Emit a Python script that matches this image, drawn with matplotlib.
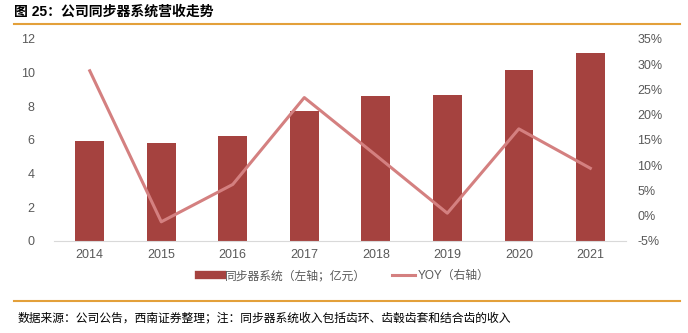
import numpy as np
import matplotlib.pyplot as plt
from matplotlib.lines import Line2D
from matplotlib.ticker import FuncFormatter

plt.rcParams['font.family'] = ['Liberation Sans', 'Noto Sans CJK SC', 'DejaVu Sans']

years = ['2014', '2015', '2016', '2017', '2018', '2019', '2020', '2021']
revenue = [5.94, 5.82, 6.24, 7.72, 8.62, 8.67, 10.16, 11.15]
yoy = [28.7, -1.2, 6.2, 23.4, 12.0, 0.5, 17.2, 9.4]

bar_color = '#A5423F'
line_color = '#D48080'
tick_color = '#595959'

fig = plt.figure(figsize=(6.88, 3.33), dpi=100)
ax = fig.add_axes([0.0785, 0.2763, 0.8315, 0.6067])
ax2 = ax.twinx()

x = np.arange(len(years))
ax.bar(x, revenue, width=0.4, color=bar_color, zorder=2)
ax2.plot(x, yoy, color=line_color, linewidth=2.2, zorder=3)

ax.set_xlim(-0.5, len(years) - 0.5)
ax.set_ylim(0, 12)
ax.set_yticks(range(0, 13, 2))
ax2.set_ylim(-5, 35)
ax2.set_yticks(range(-5, 36, 5))
ax2.yaxis.set_major_formatter(FuncFormatter(lambda v, p: f'{v:.0f}%'))
ax.set_xticks(x)
ax.set_xticklabels(years)

for a in (ax, ax2):
    for s in a.spines.values():
        s.set_visible(False)
    a.tick_params(length=0, labelsize=9, colors=tick_color)
ax.spines['bottom'].set_visible(True)
ax.spines['bottom'].set_color('#D9D9D9')
ax.tick_params(axis='y', pad=14)
ax2.tick_params(axis='y', pad=8)
ax.tick_params(axis='x', pad=6)

handles = [Line2D([0], [0], color=bar_color, linewidth=6),
           Line2D([0], [0], color=line_color, linewidth=2.2)]
labels = ['同步器系统（左轴；亿元）', 'YOY（右轴）']
fig.legend(handles, labels, loc='center', bbox_to_anchor=(0.5, 0.171), ncol=2,
           frameon=False, fontsize=8.5, handlelength=2.0, handletextpad=0.2,
           columnspacing=2.2, labelcolor=tick_color)

fig.text(0.02, 0.965, '图 25：公司同步器系统营收走势', fontsize=10, fontweight='bold',
         va='center', ha='left')
fig.add_artist(Line2D([0.02, 0.988], [0.928, 0.928], color='#E3A03A', linewidth=1.5))
fig.add_artist(Line2D([0.02, 0.988], [0.097, 0.097], color='#E3A03A', linewidth=1.5))
fig.text(0.025, 0.045, '数据来源：公司公告，西南证券整理；注：同步器系统收入包括齿环、齿毂齿套和结合齿的收入',
         fontsize=8.5, style='italic', va='center', ha='left')

fig.savefig('out.png', dpi=100)
